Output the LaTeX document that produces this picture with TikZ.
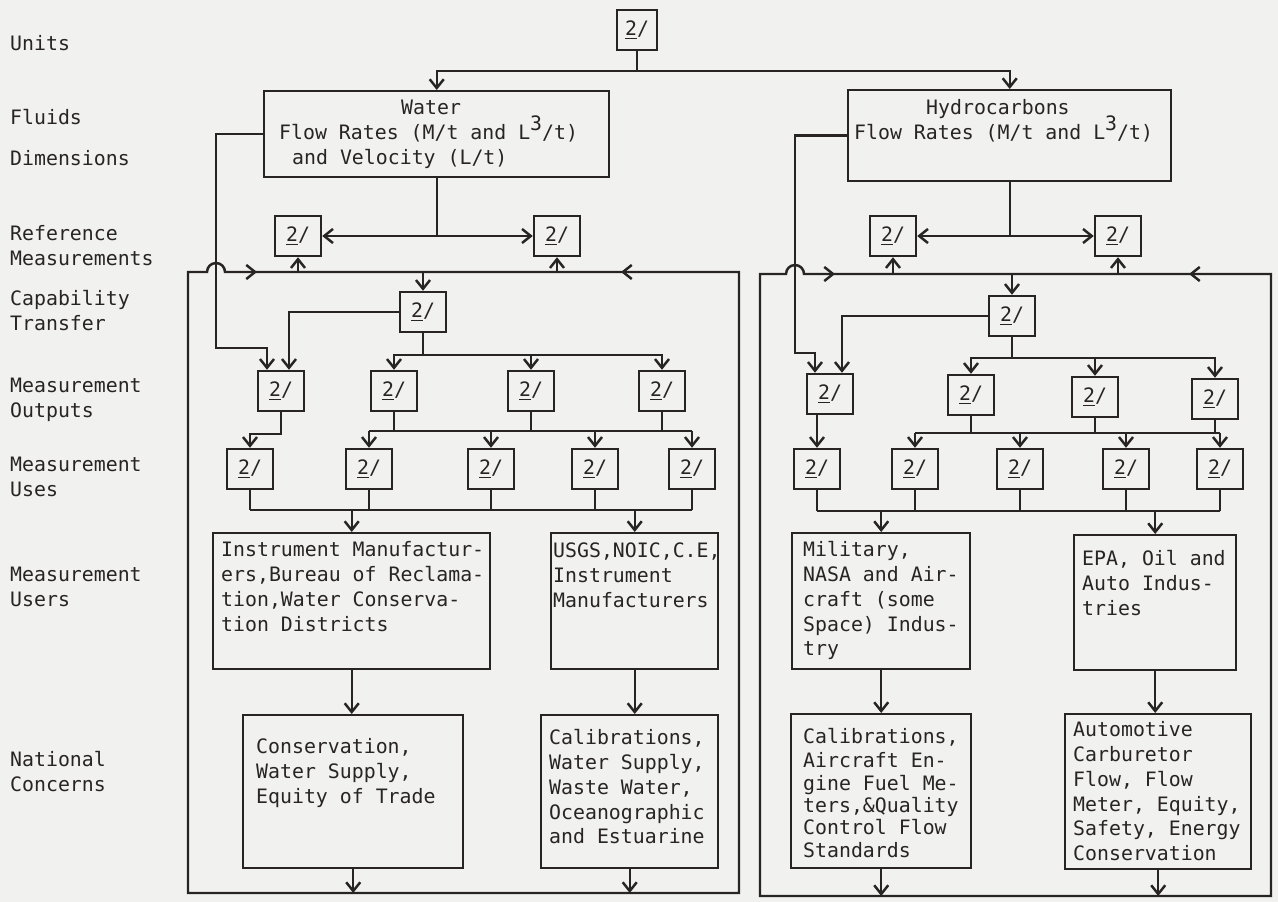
\documentclass[tikz,border=0pt]{standalone}
\usepackage{fontspec}
\setmainfont{DejaVu Sans Mono}
\usepackage{tikz}
\usetikzlibrary{calc,arrows.meta}
\definecolor{paper}{RGB}{241,241,239}
\definecolor{ink}{RGB}{40,36,36}
\newlength{\px}
\setlength{\px}{0.02cm}
% fixed size box text: width, height, left inset, top inset, lines
\newcommand{\boxtext}[5]{\parbox[c][#2][t]{#1}{\raggedright\leftskip=#3\relax\vspace*{#4}\strut #5}}
\newcommand{\two}{\underline{2}/}
\newcommand{\cube}{\smash{\raisebox{0.45em}{3}}}
\tikzstyle{notebox}=[draw,minimum width=0.92cm,minimum height=0.8cm,inner sep=0pt]
\tikzstyle{textbox}=[draw,anchor=north west,inner sep=0pt]
\tikzstyle{rowlabel}=[anchor=north west,inner sep=0pt,align=left]

\begin{document}
\begin{tikzpicture}[x=0.02cm,y=-0.02cm,line width=1.4pt,color=ink,>={Straight Barb[length=5pt,width=8pt]},font=\fontsize{11.3pt}{14.2pt}\selectfont]
          \fill[paper] (0, 0) rectangle (1278, 902);
          \useasboundingbox (0, 0) rectangle (1278, 902);

          % row labels
          \node[rowlabel] at (9, 31.5) (units) {\strut Units};
          \node[rowlabel] at (9, 105.5) (fluids) {\strut Fluids};
          \node[rowlabel] at (9, 146.5) (dims) {\strut Dimensions};
          \node[rowlabel] at (9, 221.5) (refmeas) {\strut Reference\\Measurements};
          \node[rowlabel] at (9, 286.5) (captrans) {\strut Capability\\Transfer};
          \node[rowlabel] at (9, 373.5) (outputs) {\strut Measurement\\Outputs};
          \node[rowlabel] at (9, 452.5) (uses) {\strut Measurement\\Uses};
          \node[rowlabel] at (9, 562.5) (users) {\strut Measurement\\Users};
          \node[rowlabel] at (9, 747.5) (concerns) {\strut National\\Concerns};

          \node[notebox,minimum width=0.8cm] at (637, 30) (U) {\two};

          % water
          \node[textbox] at (263, 90) (W) {\boxtext{345\px}{86\px}{15\px}{5.5\px}{\hspace*{122\px}Water\\Flow Rates (M/t and L\cube/t)\\\hspace*{13\px}and Velocity (L/t)}};
          \node[notebox] at (298, 236) (WR1) {\two};
          \node[notebox] at (557, 236) (WR2) {\two};
          \node[notebox] at (423, 312) (WC) {\two};
          \node[notebox] at (281, 391) (WO1) {\two};
          \node[notebox] at (394, 391) (WO2) {\two};
          \node[notebox] at (531, 391) (WO3) {\two};
          \node[notebox] at (662, 391) (WO4) {\two};
          \node[notebox] at (250, 469) (WU1) {\two};
          \node[notebox] at (369, 469) (WU2) {\two};
          \node[notebox] at (491, 469) (WU3) {\two};
          \node[notebox] at (595, 469) (WU4) {\two};
          \node[notebox] at (692, 469) (WU5) {\two};
          \node[textbox] at (212, 532) (WS1) {\boxtext{277\px}{136\px}{8\px}{5.5\px}{Instrument Manufactur-\\ers,Bureau of Reclama-\\tion,Water Conserva-\\tion Districts}};
          \node[textbox] at (550, 532) (WS2) {\boxtext{167\px}{136\px}{2\px}{6.5\px}{USGS,NOIC,C.E,\\Instrument\\Manufacturers}};
          \node[textbox] at (242, 714) (WN1) {\boxtext{220\px}{153\px}{13\px}{20.5\px}{Conservation,\\Water Supply,\\Equity of Trade}};
          \node[textbox] at (540, 714) (WN2) {\boxtext{177\px}{153\px}{8\px}{11.5\px}{Calibrations,\\Water Supply,\\Waste Water,\\Oceanographic\\and Estuarine}};

          % hydrocarbons
          \node[textbox] at (847, 89) (H) {\boxtext{323\px}{91\px}{6\px}{6.5\px}{\hspace*{72\px}Hydrocarbons\\Flow Rates (M/t and L\cube/t)}};
          \node[notebox] at (893, 236) (HR1) {\two};
          \node[notebox] at (1118, 236) (HR2) {\two};
          \node[notebox] at (1012, 316) (HC) {\two};
          \node[notebox] at (830, 394) (HO1) {\two};
          \node[notebox] at (971, 395) (HO2) {\two};
          \node[notebox] at (1095, 397) (HO3) {\two};
          \node[notebox] at (1215, 399) (HO4) {\two};
          \node[notebox] at (817, 469) (HU1) {\two};
          \node[notebox] at (915, 469) (HU2) {\two};
          \node[notebox] at (1020, 469) (HU3) {\two};
          \node[notebox] at (1126, 469) (HU4) {\two};
          \node[notebox] at (1220, 469) (HU5) {\two};
          \node[textbox] at (791, 532) (HS1) {\boxtext{178\px}{136\px}{11\px}{5.5\px}{Military,\\NASA and Air-\\craft (some\\Space) Indus-\\try}};
          \node[textbox] at (1073, 534) (HS2) {\boxtext{162\px}{135\px}{8\px}{12.5\px}{EPA, Oil and\\Auto Indus-\\tries}};
          \node[textbox] at (790, 713) (HN1) {\boxtext{180\px}{154\px}{12\px}{11.5\px}{\fontsize{11.3pt}{12.8pt}\selectfont Calibrations,\\Aircraft En-\\gine Fuel Me-\\ters,\&Quality\\Control Flow\\Standards}};
          \node[textbox] at (1064, 713) (HN2) {\boxtext{186\px}{155\px}{8\px}{4.5\px}{Automotive\\Carburetor\\Flow, Flow\\Meter, Equity,\\Safety, Energy\\Conservation}};

          % units to fluids
          \coordinate (ut) at (637, 71);
          \draw (U) -- (ut);
          \draw[->] (ut) -| (W.north);
          \draw[->] (ut) -| (H.north);

          % water: reference measurements
          \coordinate (wj) at (W.south |- WR1);
          \draw (W.south) -- (wj);
          \draw[->] (wj) -- (WR1);
          \draw[->] (wj) -- (WR2);

          % water: loop frame
          \coordinate (wf1) at (188, 272);
          \coordinate (wf2) at (739, 272);
          \coordinate (wf3) at (739, 893);
          \coordinate (wf4) at (188, 893);
          \coordinate (wa1) at (257, 272);
          \coordinate (wa2) at (621, 272);
          \draw (wf1) -- ++(19, 0) arc[start angle=180, end angle=360, radius=9] -- (wf2) -- (wf3) -- (wf4) -- cycle;
          \draw[->] ($(wa1)+(-20, 0)$) -- (wa1);
          \draw[->] ($(wa2)+(20, 0)$) -- (wa2);
          \draw[->] (WR1.south |- wf1) -- (WR1.south);
          \draw[->] (WR2.south |- wf1) -- (WR2.south);
          \draw[->] (WC.north |- wf1) -- (WC.north);

          % water: capability transfer to outputs
          \draw[->] (W.west) -- ++(-47, 0) |- ($(WO1.north)+(-14, -22)$) -- ($(WO1.north)+(-14, 0)$);
          \draw[->] (WC.west) -| ($(WO1.north)+(8, 0)$);
          \coordinate (wcj) at ($(WC.south)+(0, 22)$);
          \draw (WC.south) -- (wcj);
          \draw[->] (wcj) -| (WO2.north);
          \draw[->] (wcj) -| (WO3.north);
          \draw[->] (wcj) -| (WO4.north);

          % water: outputs to uses
          \coordinate (wob) at (0, 431);
          \draw[->] (WO1.south) -- ++(0, 22) -| (WU1.north);
          \draw (WO2.south) -- (WO2.south |- wob);
          \draw (WO3.south) -- (WO3.south |- wob);
          \draw (WO4.south) -- (WO4.south |- wob);
          \draw (WU2.north |- wob) -- (WU5.north |- wob);
          \draw[->] (WU2.north |- wob) -- (WU2.north);
          \draw[->] (WU3.north |- wob) -- (WU3.north);
          \draw[->] (WU4.north |- wob) -- (WU4.north);
          \draw[->] (WU5.north |- wob) -- (WU5.north);

          % water: uses to users to concerns
          \coordinate (wub) at (0, 510);
          \draw (WU1.south) -- (WU1.south |- wub);
          \draw (WU2.south) -- (WU2.south |- wub);
          \draw (WU3.south) -- (WU3.south |- wub);
          \draw (WU4.south) -- (WU4.south |- wub);
          \draw (WU5.south) -- (WU5.south |- wub);
          \draw (WU1.south |- wub) -- (WU5.south |- wub);
          \draw[->] (WS1.north |- wub) -- (WS1.north);
          \draw[->] (WS2.north |- wub) -- (WS2.north);
          \draw[->] (WS1.south) -- (WS1.south |- WN1.north);
          \draw[->] (WS2.south) -- (WS2.south |- WN2.north);
          \draw[->] (WN1.south) -- (WN1.south |- wf4);
          \draw[->] (WN2.south) -- (WN2.south |- wf4);

          % hydrocarbons: reference measurements
          \coordinate (hj) at (H.south |- HR1);
          \draw (H.south) -- (hj);
          \draw[->] (hj) -- (HR1);
          \draw[->] (hj) -- (HR2);

          % hydrocarbons: loop frame
          \coordinate (hf1) at (760, 274);
          \coordinate (hf2) at (1271, 274);
          \coordinate (hf3) at (1271, 896);
          \coordinate (hf4) at (760, 896);
          \coordinate (ha1) at (835, 274);
          \coordinate (ha2) at (1189, 274);
          \draw (hf1) -- ++(26, 0) arc[start angle=180, end angle=360, radius=9] -- (hf2) -- (hf3) -- (hf4) -- cycle;
          \draw[->] ($(ha1)+(-20, 0)$) -- (ha1);
          \draw[->] ($(ha2)+(20, 0)$) -- (ha2);
          \draw[->] (HR1.south |- hf1) -- (HR1.south);
          \draw[->] (HR2.south |- hf1) -- (HR2.south);
          \draw[->] (HC.north |- hf1) -- (HC.north);

          % hydrocarbons: capability transfer to outputs
          \draw[->] (H.west) -- ++(-52, 0) |- ($(HO1.north)+(-15, -20)$) -- ($(HO1.north)+(-15, 0)$);
          \draw[->] (HC.west) -| ($(HO1.north)+(12, 0)$);
          \coordinate (hcj) at ($(HC.south)+(0, 21)$);
          \draw (HC.south) -- (hcj);
          \draw[->] (hcj) -| (HO2.north);
          \draw[->] (hcj) -| (HO3.north);
          \draw[->] (hcj) -| (HO4.north);

          % hydrocarbons: outputs to uses
          \coordinate (hob) at (0, 433);
          \draw[->] (HU1.north |- HO1.south) -- (HU1.north);
          \draw (HO2.south) -- (HO2.south |- hob);
          \draw (HO3.south) -- (HO3.south |- hob);
          \draw (HO4.south) -- (HO4.south |- hob);
          \draw (HU2.north |- hob) -- (HU5.north |- hob);
          \draw[->] (HU2.north |- hob) -- (HU2.north);
          \draw[->] (HU3.north |- hob) -- (HU3.north);
          \draw[->] (HU4.north |- hob) -- (HU4.north);
          \draw[->] (HU5.north |- hob) -- (HU5.north);

          % hydrocarbons: uses to users to concerns
          \coordinate (hub) at (0, 511);
          \draw (HU1.south) -- (HU1.south |- hub);
          \draw (HU2.south) -- (HU2.south |- hub);
          \draw (HU3.south) -- (HU3.south |- hub);
          \draw (HU4.south) -- (HU4.south |- hub);
          \draw (HU5.south) -- (HU5.south |- hub);
          \draw (HU1.south |- hub) -- (HU5.south |- hub);
          \draw[->] (HS1.north |- hub) -- (HS1.north);
          \draw[->] (HS2.north |- hub) -- (HS2.north);
          \draw[->] (HS1.south) -- (HS1.south |- HN1.north);
          \draw[->] (HS2.south) -- (HS2.south |- HN2.north);
          \draw[->] (HN1.south) -- (HN1.south |- hf4);
          \draw[->] (HN2.south) -- (HN2.south |- hf4);
        \end{tikzpicture}
\end{document}
